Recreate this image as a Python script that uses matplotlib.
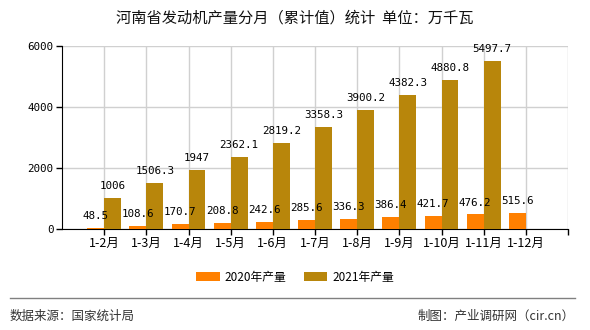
import matplotlib
matplotlib.use("Agg")
import matplotlib.pyplot as plt
import numpy as np

plt.rcParams['font.family'] = ['Noto Sans CJK SC', 'DejaVu Sans']

# data
months = ['1-2月', '1-3月', '1-4月', '1-5月', '1-6月', '1-7月',
          '1-8月', '1-9月', '1-10月', '1-11月', '1-12月']
prod_2020 = [48.5, 108.6, 170.7, 208.8, 242.6, 285.6, 336.3, 386.4, 421.7, 476.2, 515.6]
prod_2021 = [1006, 1506.3, 1947, 2362.1, 2819.2, 3358.3, 3900.2, 4382.3, 4880.8, 5497.7]
y_ticks = [0, 2000, 4000, 6000]

c2020 = '#FF8000'
c2021 = '#B8860B'

fig = plt.figure(figsize=(5.9, 3.3), dpi=100)
ax = fig.add_axes([62/590, 1-229/330, 506/590, 183/330])

w = 0.4
x20 = np.arange(1, len(prod_2020)+1)
x21 = np.arange(1, len(prod_2021)+1)
ax.bar(x20 - w/2, prod_2020, width=w, color=c2020, label='2020年产量', zorder=3)
ax.bar(x21 + w/2, prod_2021, width=w, color=c2021, label='2021年产量', zorder=3)

def fmt(v):
    return ('%g' % v)

for xi, v in zip(x20, prod_2020):
    ax.annotate(fmt(v), (xi - w/2, v), xytext=(0, 5), textcoords='offset points',
                ha='center', va='bottom', fontsize=7.8, family='DejaVu Sans Mono', zorder=4)
for xi, v in zip(x21, prod_2021):
    ax.annotate(fmt(v), (xi + w/2, v), xytext=(0, 5), textcoords='offset points',
                ha='center', va='bottom', fontsize=7.8, family='DejaVu Sans Mono', zorder=4)

ax.set_xlim(0, 12)
ax.set_ylim(0, 6000)
ax.set_xticks(list(range(1, 13)))
ax.set_xticklabels(months + [''], fontsize=9)
ax.set_yticks(y_ticks)
ax.set_yticklabels([str(t) for t in y_ticks], fontsize=7.8, family='DejaVu Sans Mono')
ax.tick_params(axis='both', length=4, width=1, color='black', pad=2)
ax.grid(True, color='#d0d0d0', linewidth=1, zorder=0)
ax.spines['top'].set_visible(False)
ax.spines['right'].set_visible(False)
ax.spines['left'].set_color('black')
ax.spines['bottom'].set_color('black')

fig.text(0.5, 1-18/330, '河南省发动机产量分月（累计值）统计  单位：万千瓦',
         ha='center', va='center', fontsize=11, color='#111111')

fig.legend(loc='center', bbox_to_anchor=(0.5, 1-277/330), ncol=2, frameon=False,
           fontsize=8.5, handlelength=2.0, handleheight=0.7, columnspacing=1.5,
           handletextpad=0.4)

fig.add_artist(plt.Line2D([10/590, 575/590], [1-298/330, 1-298/330],
                          color='#808080', linewidth=1))
fig.text(10/590, 1-316/330, '数据来源：国家统计局', ha='left', va='center',
         fontsize=9, color='#333333')
fig.text(575/590, 1-316/330, '制图：产业调研网（cir.cn）', ha='right', va='center',
         fontsize=9, color='#333333')

fig.savefig('out.png', dpi=100)
